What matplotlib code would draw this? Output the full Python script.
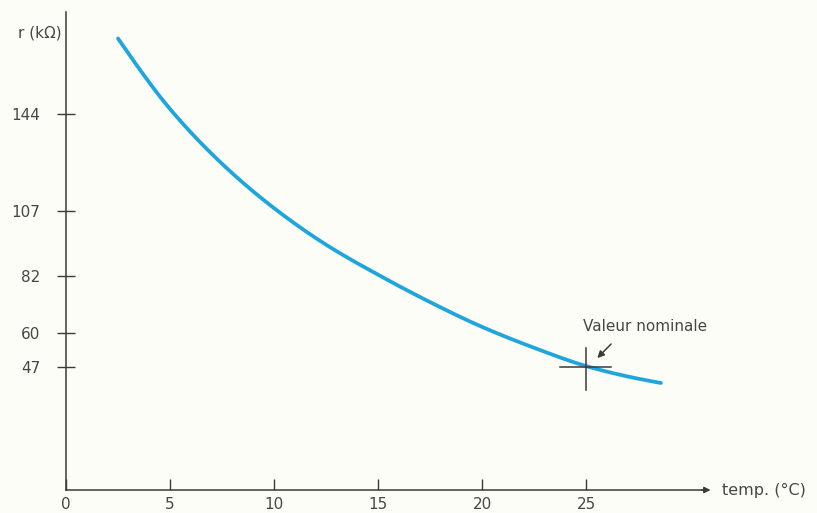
import numpy as np
import matplotlib
matplotlib.use("Agg")
import matplotlib.pyplot as plt

# ---- data ----
temp_c = [2.5, 5, 7.5, 10, 12.5, 15, 17.5, 20, 22.5, 25, 27, 28.6]
r_kohm = [173, 146, 125, 108, 94, 82.5, 72, 62.5, 54.5, 47.5, 43.5, 41]

x_ticks = [0, 5, 10, 15, 20, 25]
y_ticks = [47, 60, 82, 107, 144]

nominal_t = 25
nominal_r = 47
nominal_label = "Valeur nominale"
x_label = "temp. (°C)"
y_label = "r (kΩ)"


def smooth_path(x, y, n=400):
    """Monotone cubic Hermite (PCHIP) rendering of the read points."""
    x = np.asarray(x, float)
    y = np.asarray(y, float)
    h = np.diff(x)
    d = np.diff(y) / h
    m = np.zeros_like(y)
    for k in range(1, len(x) - 1):
        if d[k - 1] * d[k] > 0:
            w1 = 2 * h[k] + h[k - 1]
            w2 = h[k] + 2 * h[k - 1]
            m[k] = (w1 + w2) / (w1 / d[k - 1] + w2 / d[k])
    m[0] = 1.5 * d[0] - 0.5 * m[1]
    m[-1] = 1.5 * d[-1] - 0.5 * m[-2]
    xs = np.linspace(x[0], x[-1], n)
    idx = np.clip(np.searchsorted(x, xs) - 1, 0, len(x) - 2)
    t = (xs - x[idx]) / h[idx]
    h00 = 2 * t**3 - 3 * t**2 + 1
    h10 = t**3 - 2 * t**2 + t
    h01 = -2 * t**3 + 3 * t**2
    h11 = t**3 - t**2
    ys = (h00 * y[idx] + h10 * h[idx] * m[idx]
          + h01 * y[idx + 1] + h11 * h[idx] * m[idx + 1])
    return xs, ys


# ---- figure ----
W, H = 817, 513
fig = plt.figure(figsize=(W / 100, H / 100), dpi=100)
bg = "#fdfdf8"
fig.patch.set_facecolor(bg)

x0_px, y0_px = 66, 490          # origin in pixels (from top-left)
px_per_x, px_per_y = 20.8, 2.61
ax = fig.add_axes([x0_px / W, (H - y0_px) / H, 1 - x0_px / W, y0_px / H])
ax.set_facecolor(bg)
ax.set_xlim(0, (W - x0_px) / px_per_x)
ax.set_ylim(0, y0_px / px_per_y)

ink = "#3a3a36"
txt = "#464646"
fs = 11

for s in ["top", "right"]:
    ax.spines[s].set_visible(False)
for s in ["left", "bottom"]:
    ax.spines[s].set_color(ink)
    ax.spines[s].set_linewidth(1.1)
ax.spines["left"].set_bounds(0, (y0_px - 12) / px_per_y)
ax.spines["bottom"].set_bounds(0, (705 - x0_px) / px_per_x)

# curve
xs, ys = smooth_path(temp_c, r_kohm)
ax.plot(xs, ys, color="#1ea6dc", lw=2.7, solid_capstyle="round",
        solid_joinstyle="round", zorder=3)

# ticks
ax.set_xticks(x_ticks)
ax.set_xticklabels([str(t) for t in x_ticks])
ax.set_yticks(y_ticks)
ax.set_yticklabels([str(t) for t in y_ticks])
ax.tick_params(axis="x", direction="in", length=8, width=1, color=ink,
               labelsize=fs, labelcolor=txt, pad=5)
ax.tick_params(axis="y", direction="inout", length=13, width=1, color=ink,
               labelsize=fs, labelcolor=txt, pad=12)

# axis arrow on x
xe = (705 - x0_px) / px_per_x
ax.annotate("", xy=(xe + 0.4, 0), xytext=(xe - 0.3, 0),
            arrowprops=dict(arrowstyle="-|>", color=ink, lw=1.1,
                            mutation_scale=9), annotation_clip=False)

# axis labels
ax.text((722 - x0_px) / px_per_x, 0, x_label, ha="left", va="center",
        fontsize=fs + 0.5, color=txt, clip_on=False)
ax.text((62 - x0_px) / px_per_x, (y0_px - 33) / px_per_y, y_label,
        ha="right", va="center", fontsize=fs, color=txt, clip_on=False)

# nominal value cross
ax.plot([nominal_t, nominal_t], [nominal_r - 8.8, nominal_r + 7.5],
        color=ink, lw=1.1, zorder=4)
ax.plot([nominal_t - 1.25, nominal_t + 1.2], [nominal_r, nominal_r],
        color=ink, lw=1.1, zorder=4)
ax.text(nominal_t - 0.15, nominal_r + 15.5, nominal_label, ha="left",
        va="center", fontsize=fs, color=txt)
ax.annotate("", xy=(nominal_t + 0.45, nominal_r + 2.8),
            xytext=(nominal_t + 1.3, nominal_r + 9.7),
            arrowprops=dict(arrowstyle="-|>", color=ink, lw=1.1,
                            mutation_scale=10))

fig.savefig("out.png", dpi=100, facecolor=bg)
